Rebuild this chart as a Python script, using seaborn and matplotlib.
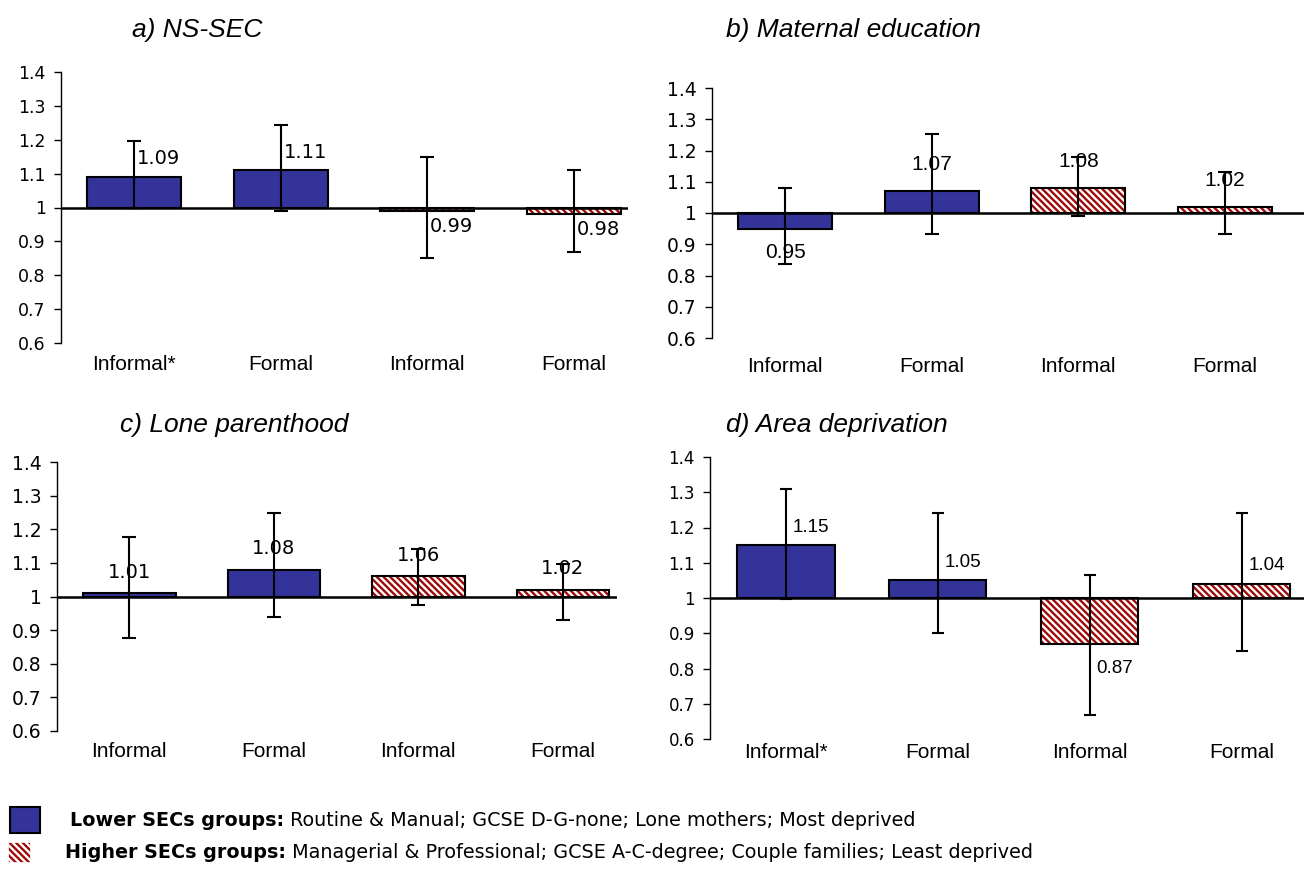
# Four panels of rate ratios (bars start at 1) with CI whiskers, Excel-style.

import pandas as pd
import seaborn as sns
import matplotlib.pyplot as plt
import matplotlib.colors as mcolors
from matplotlib.patches import Rectangle

sns.set_style('white')
plt.rcParams['font.family'] = ['Liberation Sans', 'DejaVu Sans']
plt.rcParams['hatch.linewidth'] = 1.7
plt.rcParams['text.color'] = 'black'
plt.rcParams['xtick.color'] = 'black'
plt.rcParams['ytick.color'] = 'black'

# ---- data ----
titles = ['a) NS-SEC', 'b) Maternal education', 'c) Lone parenthood', 'd) Area deprivation']
groups = ['Lower', 'Lower', 'Higher', 'Higher']

labels_a = ['Informal*', 'Formal', 'Informal', 'Formal']
vals_a = [1.09, 1.11, 0.99, 0.98]
lo_a = [1.00, 0.99, 0.85, 0.87]
hi_a = [1.195, 1.245, 1.15, 1.11]

labels_b = ['Informal', 'Formal', 'Informal', 'Formal']
vals_b = [0.95, 1.07, 1.08, 1.02]
lo_b = [0.837, 0.932, 0.99, 0.932]
hi_b = [1.08, 1.252, 1.18, 1.13]

labels_c = ['Informal', 'Formal', 'Informal', 'Formal']
vals_c = [1.01, 1.08, 1.06, 1.02]
lo_c = [0.876, 0.938, 0.976, 0.929]
hi_c = [1.178, 1.249, 1.14, 1.098]

labels_d = ['Informal*', 'Formal', 'Informal', 'Formal']
vals_d = [1.15, 1.05, 0.87, 1.04]
lo_d = [0.997, 0.90, 0.668, 0.849]
hi_d = [1.309, 1.24, 1.065, 1.24]

yticks = [0.6, 0.7, 0.8, 0.9, 1.0, 1.1, 1.2, 1.3, 1.4]
ytick_labels = ['0.6', '0.7', '0.8', '0.9', '1', '1.1', '1.2', '1.3', '1.4']

blue = '#333399'
red = '#9c0a0a'
HATCH = '\\' * 5

W, H = 1304, 876
fig = plt.figure(figsize=(W / 100, H / 100), dpi=100)


def px_axes(left, top, right, bottom):
    return fig.add_axes([left / W, 1 - bottom / H, (right - left) / W, (bottom - top) / H])


# layout per panel: axes box (px), xlim right, title pos, label style
layout = [
    dict(box=(61, 72, 628, 343), xr=3.37, tpos=(132, 30), lab='right', dx=2, up=13, dn=-11,
         vfs=14, vfam='DejaVu Sans', tfs=12.5, xpad=9, cap=5),
    dict(box=(712, 88, 1304, 338), xr=3.54, tpos=(726, 30), lab='center', dx=0, up=19, dn=-17,
         vfs=15, vfam='Liberation Sans', tfs=13.5, xpad=14, cap=5),
    dict(box=(57, 462, 617, 731), xr=3.375, tpos=(120, 425), lab='center', dx=0, up=15, dn=-15,
         vfs=14, vfam='DejaVu Sans', tfs=13.5, xpad=8, cap=5),
    dict(box=(710, 457, 1304, 739), xr=3.41, tpos=(726, 425), lab='right', dx=5, up=13, dn=-18,
         vfs=13.5, vfam='Liberation Sans', tfs=12, xpad=3, cap=4),
]
panel_data = [
    (labels_a, vals_a, lo_a, hi_a),
    (labels_b, vals_b, lo_b, hi_b),
    (labels_c, vals_c, lo_c, hi_c),
    (labels_d, vals_d, lo_d, hi_d),
]

axes = []
for title, (labels, vals, lo, hi), lay in zip(titles, panel_data, layout):
    ax = px_axes(*lay['box'])
    axes.append(ax)
    df = pd.DataFrame({'pos': range(4), 'group': groups,
                       'height': [v - 1 for v in vals]})
    sns.barplot(data=df, x='pos', y='height', hue='group',
                palette={'Lower': blue, 'Higher': 'white'}, dodge=False,
                saturation=1, width=0.64, bottom=1, edgecolor='black', linewidth=1.5,
                legend=False, ax=ax)
    for p in ax.patches:
        if mcolors.to_hex(p.get_facecolor()) == '#ffffff':
            p.set_hatch(HATCH)
            p._hatch_color = mcolors.to_rgba(red)

    ax.errorbar(range(4), vals,
                yerr=[[v - l for v, l in zip(vals, lo)], [h - v for v, h in zip(vals, hi)]],
                fmt='none', ecolor='black', elinewidth=1.5,
                capsize=lay['cap'], capthick=1.5, zorder=4)
    ax.axhline(1, color='black', lw=1.8, zorder=3)

    for i, v in enumerate(vals):
        dy = lay['up'] if v > 1 else lay['dn']
        ax.annotate(f'{v:.2f}', xy=(i, v), xytext=(lay['dx'], dy),
                    textcoords='offset points', va='center',
                    ha='left' if lay['lab'] == 'right' else 'center',
                    fontsize=lay['vfs'], family=lay['vfam'], zorder=5)

    ax.set_ylim(0.6, 1.4)
    ax.set_xlim(-0.5, lay['xr'])
    ax.set_yticks(yticks)
    ax.set_yticklabels(ytick_labels, family='DejaVu Sans')
    ax.set_xticks(range(4))
    ax.set_xticklabels(labels, fontsize=15)
    ax.set(xlabel='', ylabel='')
    ax.tick_params(axis='y', left=True, direction='out', length=5, width=1,
                   pad=6, labelsize=lay['tfs'])
    ax.tick_params(axis='x', length=0, pad=lay['xpad'])
    for s in ['top', 'right', 'bottom']:
        ax.spines[s].set_visible(False)
    ax.spines['left'].set_color('black')
    ax.spines['left'].set_linewidth(1)
    ax.patch.set_alpha(0)

    fig.text(lay['tpos'][0] / W, 1 - lay['tpos'][1] / H, title,
             fontsize=19, style='italic', va='center', ha='left')

# ---- legend drawn at the bottom ----
fig.add_artist(Rectangle((10 / W, 1 - 833 / H), 30 / W, 26 / H, transform=fig.transFigure,
                         facecolor=blue, edgecolor='black', lw=1.5))
hatch_box = Rectangle((8 / W, 1 - 862 / H), 22 / W, 20 / H, transform=fig.transFigure,
                      facecolor='white', edgecolor='white', lw=0.5, hatch=HATCH)
hatch_box._hatch_color = mcolors.to_rgba(red)
fig.add_artist(hatch_box)

leg_rows = [
    ('Lower SECs groups:', ' Routine & Manual; GCSE D-G-none; Lone mothers; Most deprived', 70, 820),
    ('Higher SECs groups:', ' Managerial & Professional; GCSE A-C-degree; Couple families; Least deprived', 65, 853),
]
for bold, rest, x, y in leg_rows:
    t = fig.text(x / W, 1 - y / H, bold, fontsize=13.8, family='DejaVu Sans',
                 fontweight='bold', va='center', ha='left')
    axes[0].annotate(rest, xy=(1, 0.5), xycoords=t, va='center', ha='left',
                     fontsize=13.8, family='DejaVu Sans', annotation_clip=False)

fig.savefig('out.png', dpi=100)
